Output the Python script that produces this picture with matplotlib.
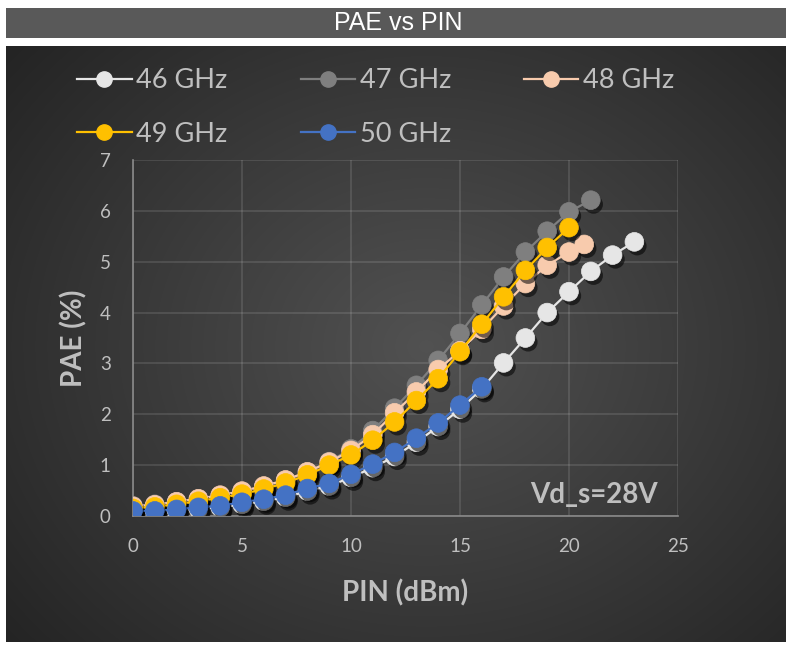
import numpy as np
import matplotlib
matplotlib.use("Agg")
import matplotlib.pyplot as plt
import matplotlib.patheffects as pe
from matplotlib.lines import Line2D
from matplotlib.patches import Rectangle

plt.rcParams['font.family'] = ['Lato', 'DejaVu Sans']

# PAE (%) vs input power (dBm), Vd_s = 28 V
pin_46 = list(range(0, 24))
pae_46 = [0.08, 0.09, 0.11, 0.14, 0.17, 0.23, 0.29, 0.37, 0.49, 0.59, 0.76, 0.95,
          1.17, 1.45, 1.76, 2.10, 2.50, 3.01, 3.50, 4.00, 4.41, 4.81, 5.13, 5.39]
pin_47 = list(range(0, 22))
pae_47 = [0.20, 0.23, 0.28, 0.33, 0.40, 0.48, 0.58, 0.70, 0.86, 1.07, 1.32, 1.68,
          2.12, 2.57, 3.06, 3.59, 4.15, 4.70, 5.19, 5.60, 5.98, 6.21]
pin_48 = list(range(0, 21)) + [20.7]
pae_48 = [0.19, 0.22, 0.28, 0.34, 0.41, 0.49, 0.59, 0.71, 0.87, 1.06, 1.29, 1.60,
          2.03, 2.44, 2.88, 3.25, 3.67, 4.13, 4.57, 4.93, 5.19, 5.34]
pin_49 = list(range(0, 21))
pae_49 = [0.15, 0.18, 0.23, 0.29, 0.36, 0.43, 0.53, 0.65, 0.81, 1.00, 1.20, 1.49,
          1.85, 2.27, 2.70, 3.23, 3.77, 4.31, 4.83, 5.28, 5.67]
pin_50 = list(range(0, 17))
pae_50 = [0.10, 0.10, 0.13, 0.17, 0.20, 0.27, 0.33, 0.41, 0.54, 0.64, 0.82, 1.02,
          1.25, 1.53, 1.83, 2.18, 2.54]

labels = ['46 GHz', '47 GHz', '48 GHz', '49 GHz', '50 GHz']
colors = ['#e6e6e6', '#7f7f7f', '#f8cbad', '#ffc000', '#4472c4']
series = [(pin_46, pae_46), (pin_47, pae_47), (pin_48, pae_48),
          (pin_49, pae_49), (pin_50, pae_50)]

txt = '#bfbfbf'

fig = plt.figure(figsize=(7.91, 6.46), dpi=100)
fig.patch.set_facecolor('white')

# title bar
fig.patches.append(Rectangle((6 / 791, 1 - 38 / 646), 780 / 791, 30 / 646,
                             transform=fig.transFigure, facecolor='#595959',
                             edgecolor='none', zorder=0))
fig.text(398 / 791, 1 - 23 / 646, 'PAE vs PIN', ha='center', va='center',
         color='white', fontsize=18, family='Liberation Sans')

# dark panel with radial shading
bg = fig.add_axes([6 / 791, 1 - 642 / 646, 780 / 791, 596 / 646], zorder=0)
yy, xx = np.mgrid[0:596, 0:780]
r = np.sqrt(((xx - 420) / 520.0) ** 2 + ((yy - 300) / 440.0) ** 2)
shade = np.clip(0.32 - 0.17 * r, 0.13, 0.32)
bg.imshow(np.dstack([shade, shade, shade]), aspect='auto', interpolation='bilinear')
bg.axis('off')

ax = fig.add_axes([133 / 791, 1 - 516 / 646, 545 / 791, 356 / 646], zorder=1)
ax.patch.set_alpha(0)

for (x, y), c, lab in zip(series, colors, labels):
    ax.plot(x, y, color=c, lw=1.6, zorder=3)
    ax.plot(x, y, ls='none', marker='o', ms=13.5, mfc=c, mec=c, mew=0.5, zorder=3,
            path_effects=[pe.SimplePatchShadow(offset=(2, -3), shadow_rgbFace='black',
                                               alpha=0.55), pe.Normal()])

ax.set_xlim(0, 25)
ax.set_ylim(0, 7)
ax.set_xticks(range(0, 26, 5))
ax.set_yticks(range(0, 8))
ax.grid(True, color='#ffffff', alpha=0.13, lw=1.2)
ax.set_axisbelow(True)
for s in ['top', 'right']:
    ax.spines[s].set_visible(False)
for s in ['left', 'bottom']:
    ax.spines[s].set_color('#8a8a8a')
    ax.spines[s].set_linewidth(1.2)
ax.tick_params(length=0, labelsize=13.5, labelcolor=txt, pad=16)

ax.set_xlabel('PIN (dBm)', fontsize=20, fontweight='bold', color=txt, labelpad=17)
ax.set_ylabel('PAE (%)', fontsize=20, fontweight='bold', color=txt, labelpad=9)
ax.text(0.962, 0.058, 'Vd_s=28V', transform=ax.transAxes, ha='right', va='center',
        fontsize=20, fontweight='bold', color=txt)

# legend fills row by row: reorder for matplotlib's column-major layout
order = [0, 3, 1, 4, 2]
handles = [Line2D([], [], color=colors[i], lw=1.6, marker='o', ms=11,
                  mfc=colors[i], mec=colors[i]) for i in order]
leg = fig.legend(handles, [labels[i] for i in order], ncol=3, loc='upper left',
                 bbox_to_anchor=(53 / 791, 1 - 44 / 646), frameon=False,
                 fontsize=19.5, labelcolor=txt, handlelength=2.0, handletextpad=0.18,
                 columnspacing=2.7, labelspacing=1.05)

fig.savefig('out.png', dpi=100, facecolor='white')
